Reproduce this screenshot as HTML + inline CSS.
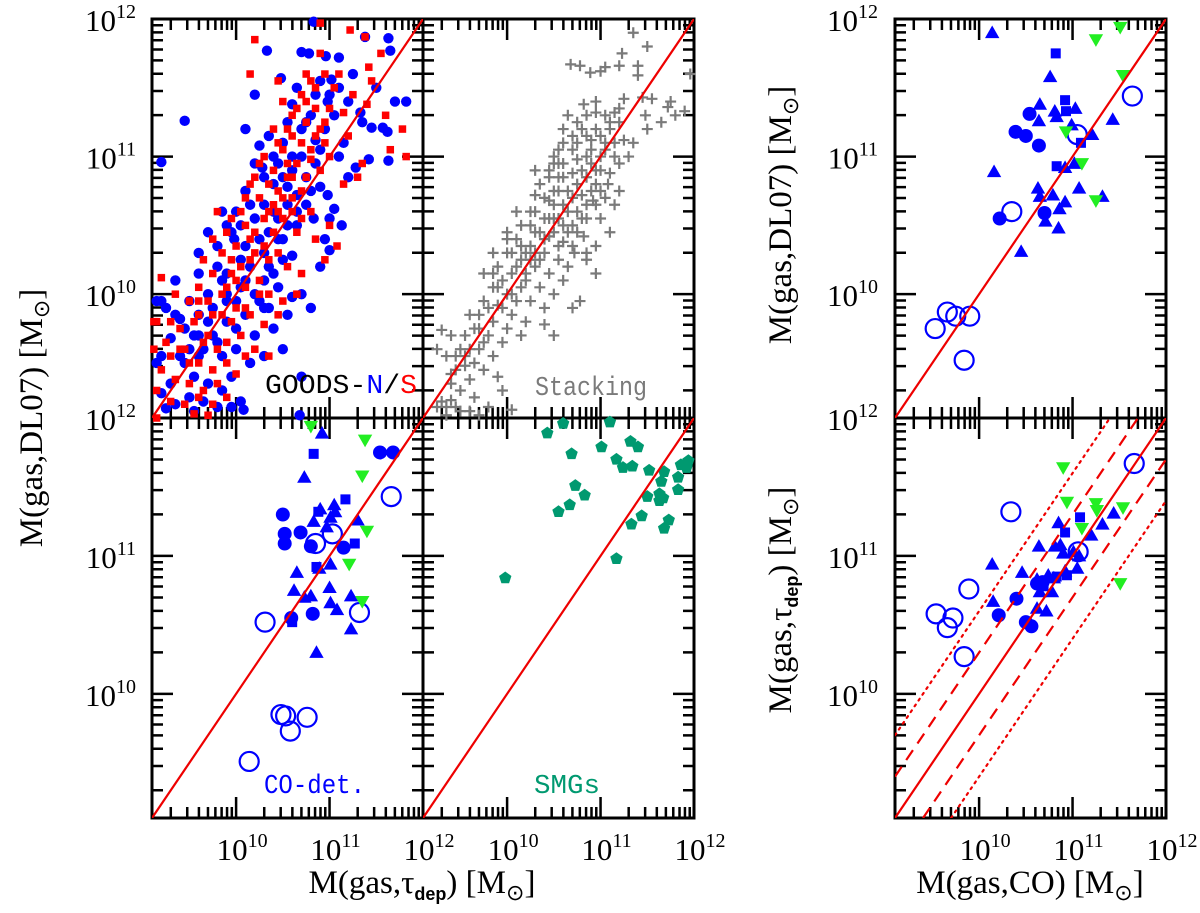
<!DOCTYPE html>
<html><head><meta charset="utf-8"><title>Gas mass comparison</title>
<style>
html,body{margin:0;padding:0;background:#fff;overflow:hidden;}
svg{display:block;}
text{font-family:"Liberation Serif",serif;}
.mono{font-family:"Liberation Mono",monospace;}
</style></head>
<body>
<svg id="chart" width="1200" height="913" viewBox="0 0 1200 913" xmlns="http://www.w3.org/2000/svg">
<g id="frames"></g>
<g id="marks"></g>
<g id="lines"></g>
<g id="labels"></g>
</svg>
<script>
// ---------- DATA (log10 masses) ----------
const goodsN = [[10.83,11.98],[11.38,11.87],[11.63,11.86],[11.65,11.77],[10.33,11.77],[10.7,11.76],[10.78,11.75],[10.96,11.73],[11.1,11.72],[11.25,11.6],[11.5,11.5],[11.02,11.56],[11.7,11.4],[11.82,11.4],[10.2,11.45],[10.48,11.57],[11.2,11.4],[11.33,11.32],[11.35,11.25],[10.9,11.55],[10.85,11.45],[11.45,11.21],[11.57,11.21],[11.62,11.18],[11.63,10.97],[11.42,10.98],[11.28,10.92],[11.05,10.62],[11.0,10.55],[11.13,10.5],[10.1,11.2],[9.45,11.26],[9.2,10.96],[10.5,11.1],[10.6,10.9],[10.7,11.0],[10.55,10.78],[10.4,10.8],[10.3,10.65],[10.28,10.92],[10.75,10.85],[10.8,10.75],[10.9,10.78],[10.65,10.5],[10.83,10.55],[10.98,10.72],[10.95,10.4],[11.0,10.32],[10.6,10.28],[10.5,10.25],[10.35,10.45],[10.2,10.55],[9.85,10.6],[9.98,10.4],[10.1,10.35],[10.15,10.2],[10.3,10.1],[10.45,10.05],[10.6,9.98],[10.7,10.0],[10.25,9.95],[10.05,10.05],[9.8,10.2],[9.7,10.0],[9.6,9.85],[9.75,9.9],[9.9,9.8],[10.0,9.75],[10.1,9.85],[10.2,9.7],[10.4,9.75],[10.35,9.9],[10.55,9.85],[9.5,9.95],[9.35,10.1],[9.2,9.95],[9.15,9.95],[9.25,9.9],[9.4,9.82],[9.55,9.7],[9.65,9.6],[9.85,9.55],[10.0,9.6],[10.15,9.5],[10.3,9.55],[9.3,9.68],[9.2,9.55],[9.45,9.5],[9.55,9.4],[9.7,9.35],[9.85,9.3],[9.95,9.4],[9.3,9.35],[9.15,9.5],[9.2,9.28],[9.35,9.2],[9.5,9.25],[9.55,9.15],[9.65,9.22],[9.8,9.18],[9.95,9.18],[10.05,9.22],[10.08,9.16],[9.25,9.17],[9.4,9.55],[9.6,9.55],[9.75,9.7],[9.9,9.95],[10.1,10.1],[10.3,10.3],[10.45,10.55],[10.55,10.65],[10.65,10.72],[10.4,10.6],[10.75,11.25],[10.95,11.2],[11.05,11.3],[11.1,11.0],[10.98,11.4],[10.85,11.12],[10.6,11.38],[10.35,11.15],[10.25,11.08],[10.45,10.95],[11.15,11.1],[11.2,10.85],[10.05,10.25],[9.9,10.15],[9.95,10.45],[10.5,9.6],[10.7,9.4],[9.6,10.15],[10.8,9.9],[10.9,10.2],[10.68,9.12],[9.6,10.3],[9.7,10.45],[9.8,10.35],[9.9,10.5],[10.0,10.6],[10.1,10.75],[10.2,10.95],[10.3,10.85],[10.4,11.0],[10.5,10.85],[10.6,11.0],[10.7,11.2],[10.8,11.3],[10.5,10.4],[10.4,10.15],[10.3,9.9],[10.2,10.0],[10.0,9.95],[9.8,9.65],[9.7,9.8],[9.6,9.7],[9.5,9.6],[9.45,9.75],[9.35,9.85],[9.9,10.0],[10.05,10.5],[10.15,10.65],[10.25,10.4],[10.35,10.2],[10.45,10.4],[10.55,10.5],[10.65,10.6],[10.75,10.65],[10.85,10.95],[10.9,11.05],[11.0,11.45],[11.1,11.5],[10.65,11.5],[10.55,11.25],[9.85,10.1]];
const goodsS = [[10.9,11.97],[11.22,11.92],[11.38,11.87],[10.2,11.85],[10.9,11.75],[11.55,11.75],[11.45,11.55],[11.42,11.65],[10.75,11.6],[11.1,11.6],[10.45,11.55],[10.15,11.6],[11.05,11.5],[11.25,11.45],[10.7,11.45],[10.85,11.35],[11.6,11.3],[11.78,11.2],[11.65,11.05],[11.82,11.0],[10.6,11.3],[10.75,11.25],[10.95,11.25],[11.15,11.32],[10.85,11.15],[10.7,11.1],[10.95,11.1],[11.2,11.15],[10.5,11.05],[10.65,10.95],[10.8,10.98],[10.55,10.85],[10.45,10.75],[10.6,10.7],[10.75,10.85],[10.9,10.9],[11.3,10.85],[11.35,10.95],[11.15,10.8],[11.0,11.0],[10.4,10.9],[10.3,11.0],[10.2,10.85],[10.1,10.7],[10.35,10.6],[10.5,10.55],[10.65,10.45],[10.8,10.6],[11.0,10.5],[10.95,10.25],[10.2,10.45],[10.3,10.35],[10.45,10.3],[10.55,10.2],[10.7,10.15],[10.15,10.25],[10.0,10.35],[9.85,10.3],[9.95,10.15],[10.1,10.05],[10.25,10.1],[10.35,10.0],[10.5,9.95],[10.65,10.0],[9.75,10.15],[9.6,10.05],[9.5,9.95],[9.7,9.95],[9.85,9.85],[10.0,9.9],[10.15,9.85],[10.3,9.78],[10.45,9.85],[9.4,9.75],[9.55,9.8],[9.7,9.7],[9.9,9.65],[10.05,9.7],[10.2,9.6],[10.35,9.55],[9.25,9.65],[9.3,9.55],[9.45,9.6],[9.6,9.5],[9.75,9.45],[9.9,9.5],[10.0,9.42],[9.2,9.45],[9.35,9.38],[9.5,9.35],[9.65,9.3],[9.8,9.35],[9.15,9.3],[9.3,9.22],[9.45,9.2],[9.6,9.25],[9.75,9.2],[9.9,9.25],[9.7,9.12],[9.15,9.1],[9.55,9.13],[10.1,9.55],[9.35,10.0],[9.15,9.8],[9.12,9.6],[9.2,10.12],[9.12,9.8],[10.55,10.95],[10.6,11.15],[10.4,11.2],[10.5,11.4],[9.95,10.55],[9.8,10.6],[10.25,10.7],[10.4,10.45],[11.08,10.35],[11.4,11.38],[10.8,11.55],[9.6,9.95],[9.9,10.05],[10.05,10.2],[10.7,10.55],[10.85,10.4],[9.65,10.25],[9.75,10.4],[9.9,10.45],[10.05,10.6],[10.15,10.8],[10.25,10.95],[10.35,10.8],[10.45,11.1],[10.55,11.2],[10.65,11.35],[10.75,11.4],[10.85,11.5],[10.95,11.6],[10.35,10.25],[10.25,10.0],[10.1,9.9],[9.95,9.8],[9.8,9.6],[9.65,9.65],[9.5,9.5],[9.4,9.6],[9.3,9.8],[9.85,10.0],[10.0,10.1],[10.15,10.4],[10.3,10.55],[10.45,10.6],[10.6,10.85],[10.7,10.75],[10.8,11.05],[10.9,11.2],[11.0,11.35],[10.2,10.3],[10.4,10.65],[10.5,10.7],[10.1,10.5],[9.95,10.25],[9.75,9.85],[9.6,9.85],[10.6,10.6]];
const stacking = [[11.35,11.9],[11.5,11.8],[11.23,11.75],[10.68,11.67],[10.78,11.66],[11.05,11.65],[11.2,11.66],[11.4,11.66],[11.4,11.59],[10.89,11.61],[11.0,11.62],[11.96,11.6],[11.45,11.43],[11.55,11.42],[11.75,11.4],[11.72,11.36],[11.25,11.42],[10.82,11.38],[11.48,11.3],[11.65,11.25],[11.8,11.3],[11.9,11.33],[10.65,11.3],[10.75,11.25],[10.85,11.3],[10.95,11.32],[11.05,11.3],[11.15,11.32],[11.2,11.25],[11.1,11.2],[11.0,11.15],[10.8,11.2],[10.6,11.1],[10.7,11.15],[10.9,11.12],[11.05,11.05],[11.15,11.1],[11.25,11.12],[11.35,11.1],[11.3,11.0],[11.2,10.95],[10.55,11.05],[10.5,11.0],[10.6,10.95],[10.75,10.98],[10.9,10.95],[11.0,10.9],[11.1,10.88],[10.45,10.85],[10.55,10.85],[10.7,10.88],[10.85,10.85],[10.95,10.8],[11.08,10.8],[11.2,10.75],[10.35,10.8],[10.5,10.75],[10.65,10.75],[10.8,10.72],[10.92,10.68],[11.05,10.7],[11.15,10.65],[10.3,10.72],[10.45,10.68],[10.6,10.65],[10.75,10.6],[10.85,10.55],[11.0,10.55],[11.1,10.45],[10.25,10.6],[10.4,10.55],[10.55,10.55],[10.7,10.5],[10.82,10.42],[10.95,10.35],[10.15,10.5],[10.3,10.45],[10.45,10.42],[10.6,10.38],[10.72,10.3],[10.85,10.3],[10.0,10.45],[10.1,10.4],[10.25,10.35],[10.4,10.3],[10.55,10.25],[10.65,10.2],[10.0,10.3],[10.15,10.25],[10.3,10.2],[10.45,10.15],[10.6,10.1],[9.9,10.2],[10.05,10.15],[10.2,10.1],[10.35,10.05],[10.5,10.0],[9.85,10.05],[10.0,10.0],[10.1,9.95],[10.25,9.95],[10.4,9.9],[9.75,9.95],[9.9,9.92],[10.05,9.85],[10.2,9.8],[9.7,9.85],[9.85,9.8],[10.0,9.75],[10.15,9.7],[9.65,9.75],[9.8,9.7],[9.95,9.65],[9.55,9.7],[9.7,9.6],[9.85,9.55],[9.5,9.6],[9.65,9.5],[9.35,9.55],[9.55,9.48],[9.75,9.45],[9.4,9.42],[9.6,9.38],[9.5,9.3],[9.65,9.25],[9.8,9.18],[9.3,9.22],[9.35,9.18],[9.4,9.23],[9.5,9.15],[9.25,9.18],[9.7,9.12],[9.35,9.12],[9.45,9.18],[10.05,9.16],[9.95,9.3],[9.25,9.6],[9.45,9.55],[9.4,9.7],[9.3,9.74],[9.6,9.85],[9.75,10.15],[9.85,10.3],[10.0,10.4],[10.1,10.6],[10.3,10.9],[10.5,10.95],[10.7,11.05],[10.95,11.4],[11.5,11.2],[10.85,10.25],[10.95,10.15],[10.7,9.9],[10.5,9.7],[10.4,9.78],[9.9,9.4],[9.6,9.15],[10.78,9.95],[10.2,10.3],[10.25,10.5],[10.3,10.6],[10.35,10.45],[10.4,10.7],[10.45,10.55],[10.5,10.65],[10.55,10.75],[10.6,10.85],[10.65,10.6],[10.7,10.7],[10.75,10.8],[10.8,10.9],[10.85,11.0],[10.9,11.05],[10.95,10.9],[11.0,11.0],[11.05,11.1],[10.1,10.2],[10.05,10.3],[10.15,10.35],[10.2,10.15],[10.3,10.3],[10.35,10.25],[10.4,10.4],[10.5,10.45],[10.55,10.35],[10.6,10.5],[10.65,10.45],[10.7,10.35],[10.75,10.45],[10.8,10.55],[10.85,10.65],[10.9,10.75],[10.95,10.65],[11.0,10.75],[9.95,10.1],[9.9,10.05],[9.8,9.9],[9.85,10.15],[9.95,9.9],[10.05,10.0],[10.15,10.05],[9.7,9.75],[9.75,9.65],[9.6,9.6],[9.55,9.55],[9.45,9.45],[9.4,9.35],[10.45,10.9],[10.55,10.95],[10.6,11.2],[10.75,11.1],[10.85,11.15],[10.95,11.2],[11.1,11.25],[11.15,11.0],[11.2,11.35],[10.25,10.25],[10.5,10.55]];
// CO-detected sample, bottom-left: x = M(gas,tau_dep), y = M(gas,DL07)
const blTri = [[10.92,11.89],[10.73,11.57],[10.90,11.34],[11.05,11.37],[10.83,11.25],[11.01,11.28],[11.06,11.32],[10.97,11.21],[11.30,11.26],[11.01,10.94],[10.65,10.88],[10.62,10.75],[10.80,10.71],[11.00,10.77],[11.01,10.66],[11.08,10.61],[11.23,10.71],[10.73,10.70],[11.23,10.47],[10.86,10.30],[10.89,10.91]];
const blSq = [[10.83,11.74],[11.17,11.41],[10.88,11.32],[11.27,11.09],[10.86,10.92],[10.60,10.52]];
const blDot = [[11.54,11.75],[11.68,11.75],[10.50,11.30],[10.52,11.16],[10.52,11.09],[10.69,11.17],[10.80,11.07],[11.15,11.06],[10.59,10.55],[10.82,10.58]];
const blOpen = [[11.66,11.43],[11.03,11.16],[10.85,11.09],[10.31,10.52],[11.32,10.59],[10.48,9.85],[10.53,9.84],[10.76,9.83],[10.58,9.73],[10.14,9.51]];
const blGreen = [[10.80,11.94],[11.38,11.84],[11.35,11.58],[11.40,11.18],[11.21,10.94],[11.35,10.67]];
// SMGs
const smg = [[10.43,11.89],[10.60,11.96],[11.10,11.97],[10.69,11.74],[11.01,11.79],[11.32,11.83],[11.40,11.79],[11.17,11.70],[11.24,11.64],[11.34,11.65],[11.52,11.62],[11.68,11.61],[11.86,11.66],[11.92,11.64],[11.94,11.69],[11.83,11.57],[11.65,11.54],[10.73,11.51],[10.83,11.44],[10.67,11.37],[10.55,11.32],[11.50,11.43],[11.63,11.45],[11.67,11.42],[11.63,11.40],[11.83,11.48],[11.44,11.29],[11.33,11.23],[11.73,11.26],[11.68,11.20],[11.17,10.98],[9.98,10.84]];
// top-right: x = M(gas,CO), y = M(gas,DL07)
const trTri = [[10.14,11.90],[10.76,11.58],[10.65,11.38],[10.81,11.33],[10.64,11.26],[10.83,11.29],[11.03,11.35],[10.99,11.23],[11.21,11.16],[11.43,11.27],[10.16,10.89],[11.02,10.95],[10.92,10.92],[10.63,10.77],[10.65,10.71],[10.79,10.72],[11.07,10.77],[10.92,10.67],[10.86,10.62],[10.71,10.53],[10.85,10.48],[11.32,10.71],[10.45,10.31]];
const trSq = [[10.82,11.75],[10.92,11.41],[10.93,11.33],[11.09,11.10],[10.83,10.93]];
const trDot = [[10.54,11.31],[10.39,11.18],[10.50,11.15],[10.64,11.08],[10.22,10.55],[10.70,10.59]];
const trOpen = [[11.64,11.44],[11.05,11.16],[10.35,10.60],[9.66,9.87],[9.75,9.84],[9.90,9.84],[9.53,9.75],[9.84,9.52]];
const trGreen = [[11.51,11.94],[11.25,11.85],[11.54,11.59],[10.93,11.18],[11.10,10.95],[11.25,10.68]];
// bottom-right: x = M(gas,CO), y = M(gas,tau_dep)
const brTri = [[10.14,10.94],[10.46,10.88],[10.64,11.07],[10.85,11.24],[10.81,11.07],[10.87,11.08],[10.90,11.02],[11.01,11.03],[11.07,11.00],[11.05,10.91],[11.20,11.15],[11.32,11.23],[11.44,11.31],[10.62,10.83],[10.74,10.86],[10.80,10.84],[10.92,10.89],[10.65,10.74],[10.78,10.74],[10.15,10.67],[10.62,10.62],[10.72,10.60]];
const brSq = [[11.08,11.28],[10.92,11.17],[10.83,10.85],[10.94,10.86],[10.69,10.78]];
const brDot = [[10.62,10.80],[10.68,10.81],[10.40,10.69],[10.21,10.57],[10.50,10.52],[10.56,10.49]];
const brOpen = [[11.66,11.67],[10.34,11.32],[11.06,11.03],[9.89,10.76],[9.54,10.58],[9.72,10.55],[9.66,10.48],[9.84,10.27]];
const brGreen = [[10.90,11.64],[10.94,11.39],[11.25,11.38],[11.26,11.33],[11.10,11.20],[11.54,11.35],[11.51,10.80]];
// reference lines: offsets in dex
const lineOffsets = [0, 0.3, -0.3, 0.6, -0.6];
const lineStyles = ['solid','dashed','dashed','dotted','dotted'];
// axis
const axisMin = 9.1, axisMax = 12;
const majorTicks = [10, 11, 12];
const tickExponents = ['10','11','12'];

// ---------- DRAWING ----------
const NS = 'http://www.w3.org/2000/svg';
const gFrames = document.getElementById('frames');
const gMarks = document.getElementById('marks');
const gLines = document.getElementById('lines');
const gLabels = document.getElementById('labels');
function mk(tag, attrs, parent){
  const e = document.createElementNS(NS, tag);
  for (const k in attrs) e.setAttribute(k, attrs[k]);
  parent.appendChild(e);
  return e;
}
const panels = {
  goods:    {x0:152, y0:19,  w:271, h:399},
  stack:    {x0:423, y0:19,  w:271, h:399},
  codet:    {x0:152, y0:418, w:271, h:400},
  smgs:     {x0:423, y0:418, w:271, h:400},
  coDL:     {x0:895, y0:19,  w:271, h:399},
  coTau:    {x0:895, y0:418, w:271, h:400}
};
function sx(p, v){ return p.x0 + (v - axisMin) / (axisMax - axisMin) * p.w; }
function sy(p, v){ return p.y0 + p.h - (v - axisMin) / (axisMax - axisMin) * p.h; }

function drawFrame(key){
  const p = panels[key];
  const g = mk('g', {}, gFrames);
  
  
  const ticks = [];
  for (let d = 9; d <= 11; d++) for (let m = 1; m <= 9; m++) {
    const v = d + Math.log10(m);
    if (v > axisMin + 0.001 && v < axisMax - 0.001) ticks.push([v, m === 1]);
  }
  let path = '';
  ticks.forEach(t => {
    const L = t[1] ? 21 : 11;
    const X = sx(p, t[0]), Y = sy(p, t[0]);
    path += `M${X},${p.y0+p.h}v${-L}M${X},${p.y0}v${L}`;
    path += `M${p.x0},${Y}h${L}M${p.x0+p.w},${Y}h${-L}`;
  });
  mk('path', {d:path, stroke:'#000', 'stroke-width':2.5, fill:'none'}, g);
  const r = mk('rect', {x:p.x0, y:p.y0, width:p.w, height:p.h, fill:'none', stroke:'#000', 'stroke-width':3}, g);
  
  
}
Object.keys(panels).forEach(drawFrame);

function circle(p, d, r, fill, stroke, name){
  const e = mk('circle', {cx:sx(p,d[0]), cy:sy(p,d[1]), r:r, fill:fill, stroke:stroke, 'stroke-width':2.2}, gMarks);
  
  
}
function square(p, d, s, fill, name){
  const e = mk('rect', {x:sx(p,d[0])-s/2, y:sy(p,d[1])-s/2, width:s, height:s, fill:fill}, gMarks);
  
  
}
function tri(p, d, s, fill, down, name){
  const X = sx(p,d[0]), Y = sy(p,d[1]), k = down ? -1 : 1;
  const pts = `${X},${Y-k*s*0.6} ${X-s*0.6},${Y+k*s*0.45} ${X+s*0.6},${Y+k*s*0.45}`;
  const e = mk('polygon', {points:pts, fill:fill}, gMarks);
  
  
}
function pent(p, d, r, fill, name){
  const X = sx(p,d[0]), Y = sy(p,d[1]);
  let pts = '';
  for (let i = 0; i < 5; i++) { const a = -Math.PI/2 + i*2*Math.PI/5; pts += `${X+r*Math.cos(a)},${Y+r*Math.sin(a)} `; }
  const e = mk('polygon', {points:pts, fill:fill}, gMarks);
  
  
}
function cross(p, d, a, name){
  const X = sx(p,d[0]), Y = sy(p,d[1]);
  const e = mk('path', {d:`M${X-a},${Y}h${2*a}M${X},${Y-a}v${2*a}`, stroke:'#7a7a7a', 'stroke-width':2.2}, gMarks);
  
  
}

const BLUE = '#0000ff', RED = '#ff0000', GREEN = '#22ee22', TEAL = '#009970';
goodsN.forEach(d => circle(panels.goods, d, 5.2, BLUE, 'none', 'goods-n-point'));
goodsS.forEach(d => square(panels.goods, d, 7.5, RED, 'goods-s-point'));
stacking.forEach(d => cross(panels.stack, d, 5.5, 'stacking-point'));
smg.forEach(d => pent(panels.smgs, d, 6.5, TEAL, 'smg-point'));

function coSet(p, tri_, sq_, dot_, open_, green_, prefix){
  tri_.forEach(d => tri(p, d, 12, BLUE, false, prefix + '-triangle-point'));
  sq_.forEach(d => square(p, d, 10, BLUE, prefix + '-square-point'));
  dot_.forEach(d => circle(p, d, 7, BLUE, 'none', prefix + '-filled-circle-point'));
  open_.forEach(d => circle(p, d, 9.5, 'none', BLUE, prefix + '-open-circle-point'));
  green_.forEach(d => tri(p, d, 12, GREEN, true, prefix + '-upper-limit-point'));
}
coSet(panels.codet, blTri, blSq, blDot, blOpen, blGreen, 'codet');
coSet(panels.coDL, trTri, trSq, trDot, trOpen, trGreen, 'co-dl07');
coSet(panels.coTau, brTri, brSq, brDot, brOpen, brGreen, 'co-tau');

// reference lines (endpoints inside the panel)
const defs = mk('defs', {}, document.getElementById('chart'));
function refLine(key, off, style){
  const p = panels[key];
  const cid = 'clip-' + key;
  if (!document.getElementById(cid)) {
    const cp = mk('clipPath', {id:cid}, defs);
    mk('rect', {x:p.x0, y:p.y0, width:p.w, height:p.h}, cp);
  }
  const xa = Math.max(axisMin, axisMin - off), xb = Math.min(axisMax, axisMax - off);
  const a = {x1:sx(p,xa), y1:sy(p,xa+off), x2:sx(p,xb), y2:sy(p,xb+off),
    stroke:'#ee0000', 'stroke-width':2.2, 'clip-path':`url(#${cid})`};
  if (style === 'dashed') a['stroke-dasharray'] = '12 8';
  if (style === 'dotted') { a['stroke-dasharray'] = '2 5'; a['stroke-linecap'] = 'round'; }
  const e = mk('line', a, gLines);
  
  
}
['goods','stack','codet','smgs','coDL'].forEach(k => refLine(k, 0, 'solid'));
lineOffsets.forEach((o, i) => refLine('coTau', o, lineStyles[i]));

// tick labels
function tickLabel(x, y, exp, anchor, name){
  const t = mk('text', {x:x, y:y, 'text-anchor':anchor, 'font-size':31, fill:'#000'}, gLabels);
  
  
  t.appendChild(document.createTextNode('10'));
  const s = mk('tspan', {dy:-13, 'font-size':20}, t);
  s.textContent = exp;
}
function yLabels(key, lx){
  const p = panels[key];
  majorTicks.forEach((v, i) => {
    const Y = v === 12 ? p.y0 : sy(p, v);
    tickLabel(lx, Y + 12, tickExponents[i], 'end', key + '-y-tick-label');
  });
}
yLabels('goods', 136); yLabels('codet', 136); yLabels('coDL', 878); yLabels('coTau', 878);
['codet','smgs','coTau'].forEach(k => {
  const p = panels[k];
  majorTicks.forEach((v, i) => tickLabel(sx(p, v) + 6, 860, tickExponents[i], 'middle', k + '-x-tick-label'));
});

// text annotations
function txt(x, y, content, attrs, name){
  const t = mk('text', Object.assign({x:x, y:y}, attrs), gLabels);
  
  
  t.innerHTML = content;
  return t;
}
txt(265, 393, 'GOODS-<tspan fill="#0000ff">N</tspan>/<tspan fill="#ff0000">S</tspan>', {'font-size':27, 'class':'mono', fill:'#000', textLength:152, lengthAdjust:'spacingAndGlyphs'}, 'goods-panel-label');
txt(535, 395, 'Stacking', {'font-size':27, 'class':'mono', fill:'#7a7a7a', textLength:112, lengthAdjust:'spacingAndGlyphs'}, 'stacking-panel-label');
txt(264, 793, 'CO-det.', {'font-size':27, 'class':'mono', fill:'#0000ff', textLength:101, lengthAdjust:'spacingAndGlyphs'}, 'codet-panel-label');
txt(534, 793, 'SMGs', {'font-size':27, 'class':'mono', fill:TEAL, textLength:66, lengthAdjust:'spacingAndGlyphs'}, 'smgs-panel-label');

const sun = '[M<tspan dy="7" font-size="22">⊙</tspan><tspan dy="-7">]</tspan>';
const tau = 'τ<tspan dy="7" font-size="18" font-weight="bold" font-family="Liberation Sans, sans-serif">dep</tspan><tspan dy="-7">)</tspan>';
txt(422, 893, 'M(gas,' + tau + ' ' + sun, {'font-size':33, 'text-anchor':'middle', fill:'#000'}, 'left-x-axis-title');
txt(1030, 893, 'M(gas,CO) ' + sun, {'font-size':33, 'text-anchor':'middle', fill:'#000'}, 'right-x-axis-title');
txt(0, 0, 'M(gas,DL07) ' + sun, {'font-size':33, 'text-anchor':'middle', fill:'#000', transform:'translate(42,418) rotate(-90)'}, 'left-y-axis-title');
txt(0, 0, 'M(gas,DL07) ' + sun, {'font-size':33, 'text-anchor':'middle', fill:'#000', transform:'translate(791,215) rotate(-90)'}, 'top-right-y-axis-title');
txt(0, 0, 'M(gas,' + tau + ' ' + sun, {'font-size':33, 'text-anchor':'middle', fill:'#000', transform:'translate(791,600) rotate(-90)'}, 'bottom-right-y-axis-title');
</script>
</body></html>
